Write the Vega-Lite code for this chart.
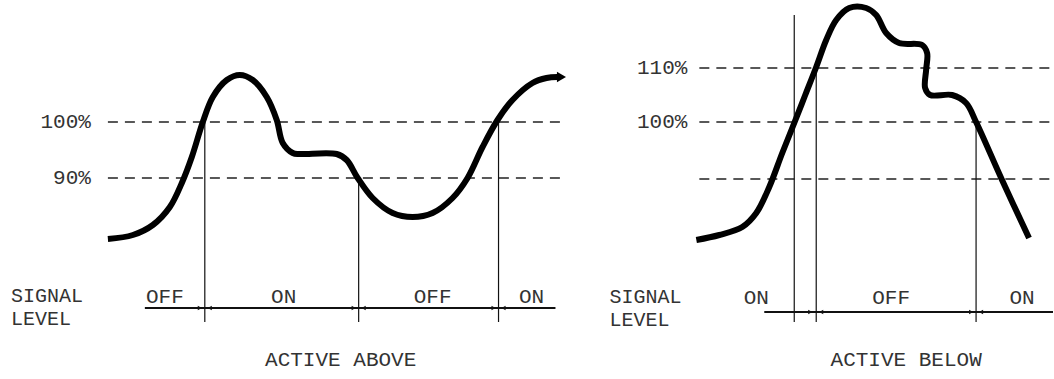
{
  "$schema": "https://vega.github.io/schema/vega-lite/v6.json",
  "width": 1054,
  "height": 379,
  "padding": 0,
  "autosize": {"type": "fit", "contains": "padding"},
  "background": "white",
  "config": {"view": {"stroke": null}},
  "datasets": {
    "curves": [
      {"panel": "A", "i": 1, "x": 108, "y": 239}, {"panel": "A", "i": 2, "x": 133, "y": 235}, {"panel": "A", "i": 3, "x": 153, "y": 225},
      {"panel": "A", "i": 4, "x": 170, "y": 207}, {"panel": "A", "i": 5, "x": 182, "y": 183}, {"panel": "A", "i": 6, "x": 192, "y": 157},
      {"panel": "A", "i": 7, "x": 203, "y": 122}, {"panel": "A", "i": 8, "x": 213, "y": 97}, {"panel": "A", "i": 9, "x": 227, "y": 80},
      {"panel": "A", "i": 10, "x": 240, "y": 75}, {"panel": "A", "i": 11, "x": 253, "y": 80}, {"panel": "A", "i": 12, "x": 267, "y": 97},
      {"panel": "A", "i": 13, "x": 277, "y": 120}, {"panel": "A", "i": 14, "x": 283, "y": 143}, {"panel": "A", "i": 15, "x": 293, "y": 153},
      {"panel": "A", "i": 16, "x": 300, "y": 154}, {"panel": "A", "i": 17, "x": 337, "y": 154}, {"panel": "A", "i": 18, "x": 347, "y": 160},
      {"panel": "A", "i": 19, "x": 358, "y": 178}, {"panel": "A", "i": 20, "x": 373, "y": 198}, {"panel": "A", "i": 21, "x": 393, "y": 213},
      {"panel": "A", "i": 22, "x": 413, "y": 217}, {"panel": "A", "i": 23, "x": 433, "y": 213}, {"panel": "A", "i": 24, "x": 453, "y": 198},
      {"panel": "A", "i": 25, "x": 468, "y": 178}, {"panel": "A", "i": 26, "x": 483, "y": 147}, {"panel": "A", "i": 27, "x": 498, "y": 120},
      {"panel": "A", "i": 28, "x": 513, "y": 100}, {"panel": "A", "i": 29, "x": 533, "y": 83}, {"panel": "A", "i": 30, "x": 547, "y": 78},
      {"panel": "A", "i": 31, "x": 558, "y": 77},
      {"panel": "B", "i": 1, "x": 697, "y": 240}, {"panel": "B", "i": 2, "x": 720, "y": 235}, {"panel": "B", "i": 3, "x": 743, "y": 227},
      {"panel": "B", "i": 4, "x": 757, "y": 213}, {"panel": "B", "i": 5, "x": 770, "y": 187}, {"panel": "B", "i": 6, "x": 783, "y": 153},
      {"panel": "B", "i": 7, "x": 795, "y": 123}, {"panel": "B", "i": 8, "x": 806, "y": 95}, {"panel": "B", "i": 9, "x": 817, "y": 67},
      {"panel": "B", "i": 10, "x": 827, "y": 40}, {"panel": "B", "i": 11, "x": 837, "y": 20}, {"panel": "B", "i": 12, "x": 850, "y": 8},
      {"panel": "B", "i": 13, "x": 867, "y": 8}, {"panel": "B", "i": 14, "x": 877, "y": 15}, {"panel": "B", "i": 15, "x": 887, "y": 33},
      {"panel": "B", "i": 16, "x": 900, "y": 43}, {"panel": "B", "i": 17, "x": 923, "y": 45}, {"panel": "B", "i": 18, "x": 928, "y": 53},
      {"panel": "B", "i": 19, "x": 927, "y": 70}, {"panel": "B", "i": 20, "x": 926, "y": 88}, {"panel": "B", "i": 21, "x": 931, "y": 95},
      {"panel": "B", "i": 22, "x": 953, "y": 95}, {"panel": "B", "i": 23, "x": 967, "y": 103}, {"panel": "B", "i": 24, "x": 977, "y": 122},
      {"panel": "B", "i": 25, "x": 1003, "y": 180}, {"panel": "B", "i": 26, "x": 1030, "y": 238}
    ],
    "dashes": [
      {"x": 108, "x2": 567, "y": 122}, {"x": 108, "x2": 567, "y": 178},
      {"x": 700, "x2": 1054, "y": 68}, {"x": 700, "x2": 1054, "y": 122}, {"x": 700, "x2": 1054, "y": 179}
    ],
    "verticals": [
      {"x": 205, "y": 122, "y2": 322}, {"x": 359, "y": 178, "y2": 322}, {"x": 499, "y": 120, "y2": 322},
      {"x": 795, "y": 15, "y2": 322}, {"x": 817, "y": 67, "y2": 322}, {"x": 977, "y": 122, "y2": 322}
    ],
    "signal": [
      {"x": 145, "x2": 556, "y": 308}, {"x": 765, "x2": 1054, "y": 312}
    ],
    "ticks": [
      {"x": 200, "y": 308, "shape": "triangle-right"}, {"x": 210, "y": 308, "shape": "triangle-left"},
      {"x": 354, "y": 308, "shape": "triangle-right"}, {"x": 364, "y": 308, "shape": "triangle-left"},
      {"x": 494, "y": 308, "shape": "triangle-right"}, {"x": 504, "y": 308, "shape": "triangle-left"},
      {"x": 811, "y": 312, "shape": "triangle-right"}, {"x": 822, "y": 312, "shape": "triangle-left"},
      {"x": 972, "y": 312, "shape": "triangle-right"}, {"x": 982, "y": 312, "shape": "triangle-left"}
    ],
    "arrowhead": [
      {"x": 562, "y": 77, "shape": "triangle-right"}
    ],
    "labels": [
      {"x": 91, "y": 122, "text": "100%", "align": "right"},
      {"x": 91, "y": 178, "text": "90%", "align": "right"},
      {"x": 11, "y": 296, "text": "SIGNAL", "align": "left"},
      {"x": 11, "y": 319, "text": "LEVEL", "align": "left"},
      {"x": 165, "y": 297, "text": "OFF", "align": "center"},
      {"x": 284, "y": 297, "text": "ON", "align": "center"},
      {"x": 433, "y": 297, "text": "OFF", "align": "center"},
      {"x": 532, "y": 297, "text": "ON", "align": "center"},
      {"x": 341, "y": 360, "text": "ACTIVE ABOVE", "align": "center"},
      {"x": 688, "y": 68, "text": "110%", "align": "right"},
      {"x": 688, "y": 122, "text": "100%", "align": "right"},
      {"x": 610, "y": 297, "text": "SIGNAL", "align": "left"},
      {"x": 610, "y": 320, "text": "LEVEL", "align": "left"},
      {"x": 757, "y": 298, "text": "ON", "align": "center"},
      {"x": 892, "y": 298, "text": "OFF", "align": "center"},
      {"x": 1023, "y": 298, "text": "ON", "align": "center"},
      {"x": 907, "y": 360, "text": "ACTIVE BELOW", "align": "center"}
    ]
  },
  "encoding": {
    "x": {"field": "x", "type": "quantitative", "scale": {"domain": [0, 1054], "nice": false, "zero": false}, "axis": null},
    "y": {"field": "y", "type": "quantitative", "scale": {"domain": [0, 379], "nice": false, "zero": false, "reverse": true}, "axis": null}
  },
  "layer": [
    {
      "data": {"name": "dashes"},
      "mark": {"type": "rule", "color": "#222", "strokeWidth": 1.3, "strokeDash": [10, 7]},
      "encoding": {"x2": {"field": "x2"}}
    },
    {
      "data": {"name": "verticals"},
      "mark": {"type": "rule", "color": "#111", "strokeWidth": 1.2},
      "encoding": {"y2": {"field": "y2"}}
    },
    {
      "data": {"name": "signal"},
      "mark": {"type": "rule", "color": "#111", "strokeWidth": 1.8},
      "encoding": {"x2": {"field": "x2"}}
    },
    {
      "data": {"name": "ticks"},
      "mark": {"type": "point", "filled": true, "color": "#111", "size": 22, "opacity": 1},
      "encoding": {"shape": {"field": "shape", "type": "nominal", "scale": null, "legend": null}}
    },
    {
      "data": {"name": "curves"},
      "mark": {"type": "line", "color": "#000", "strokeWidth": 6, "interpolate": "catmull-rom", "strokeCap": "butt", "strokeJoin": "round"},
      "encoding": {"detail": {"field": "panel"}, "order": {"field": "i", "type": "quantitative"}}
    },
    {
      "data": {"name": "arrowhead"},
      "mark": {"type": "point", "filled": true, "color": "#000", "size": 110, "opacity": 1},
      "encoding": {"shape": {"field": "shape", "type": "nominal", "scale": null, "legend": null}}
    },
    {
      "data": {"name": "labels"},
      "transform": [{"filter": "datum.align == 'left'"}],
      "mark": {"type": "text", "font": "Liberation Mono", "fontSize": 20, "color": "#333", "baseline": "middle", "align": "left"},
      "encoding": {"text": {"field": "text"}}
    },
    {
      "data": {"name": "labels"},
      "transform": [{"filter": "datum.align == 'center'"}],
      "mark": {"type": "text", "font": "Liberation Mono", "fontSize": 21, "color": "#333", "baseline": "middle", "align": "center"},
      "encoding": {"text": {"field": "text"}}
    },
    {
      "data": {"name": "labels"},
      "transform": [{"filter": "datum.align == 'right'"}],
      "mark": {"type": "text", "font": "Liberation Mono", "fontSize": 21, "color": "#333", "baseline": "middle", "align": "right"},
      "encoding": {"text": {"field": "text"}}
    }
  ]
}
